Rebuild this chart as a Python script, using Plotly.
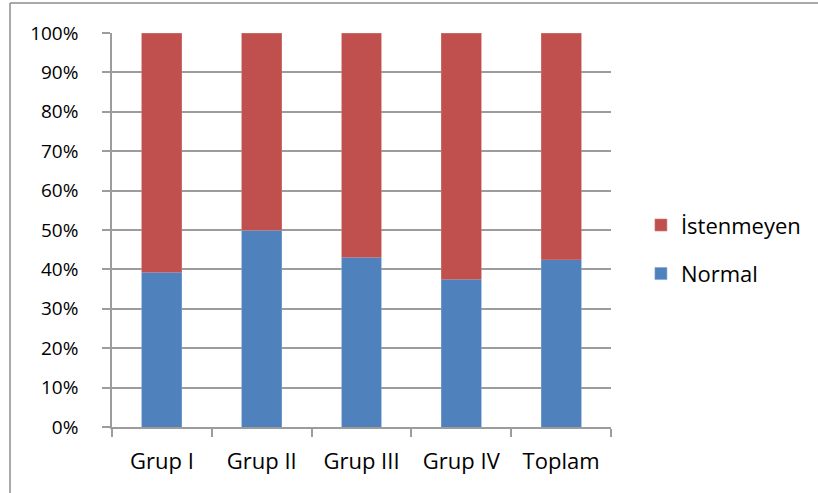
import plotly.graph_objects as go

categories = ["Grup I", "Grup II", "Grup III", "Grup IV", "Toplam"]
normal = [39.3, 49.9, 43.1, 37.5, 42.5]
istenmeyen = [100 - v for v in normal]
y_ticks = list(range(0, 101, 10))
y_tick_labels = [f"{t}%" for t in y_ticks]

FONT = "Open Sans"
GRID = "#9c9c9c"

fig = go.Figure()
fig.add_trace(go.Bar(
    x=categories, y=normal, name="Normal",
    marker=dict(color="#4F81BD", line=dict(color="#7fa3d3", width=0.6)),
    legendgroup="normal", legendrank=2,
))
fig.add_trace(go.Bar(
    x=categories, y=istenmeyen, name="İstenmeyen",
    marker=dict(color="#C0504D", line=dict(color="#d47a78", width=0.6)),
    legendgroup="istenmeyen", legendrank=1,
))

fig.update_layout(
    width=818, height=493,
    margin=dict(l=112, r=207, t=33, b=66),
    barmode="stack",
    bargap=0.6,
    plot_bgcolor="white",
    paper_bgcolor="white",
    font=dict(family=FONT, size=20, color="black"),
    showlegend=True,
    legend=dict(
        x=1.06, xanchor="left", y=0.45, yanchor="middle",
        traceorder="grouped", tracegroupgap=17,
        font=dict(family=FONT, size=22, color="black"),
        bgcolor="rgba(0,0,0,0)",
    ),
    shapes=[
        dict(type="line", xref="paper", yref="paper",
             x0=-102 / 499, x1=1 + 207 / 499, y0=1 + 30 / 394, y1=1 + 30 / 394,
             line=dict(color="#8c8c8c", width=1.5)),
        dict(type="line", xref="paper", yref="paper",
             x0=-102 / 499, x1=-102 / 499, y0=1 + 30 / 394, y1=-66 / 394,
             line=dict(color="#8c8c8c", width=1.5)),
    ],
)

fig.update_xaxes(
    showline=True, linecolor=GRID, linewidth=1.5,
    ticks="outside", ticklen=8, tickcolor=GRID, tickwidth=1.5,
    tickson="boundaries", showgrid=False,
    tickfont=dict(family=FONT, size=22, color="black"),
    ticklabelstandoff=14,
)
fig.update_yaxes(
    range=[0, 100], tickvals=y_ticks, ticktext=y_tick_labels,
    showline=True, linecolor=GRID, linewidth=1.5,
    showgrid=True, gridcolor=GRID, gridwidth=1.5,
    ticks="outside", ticklen=8, tickcolor=GRID, tickwidth=1.5,
    tickfont=dict(family=FONT, size=19, color="black"),
    ticklabelstandoff=20, zeroline=False,
)

fig.write_html("out.html")
